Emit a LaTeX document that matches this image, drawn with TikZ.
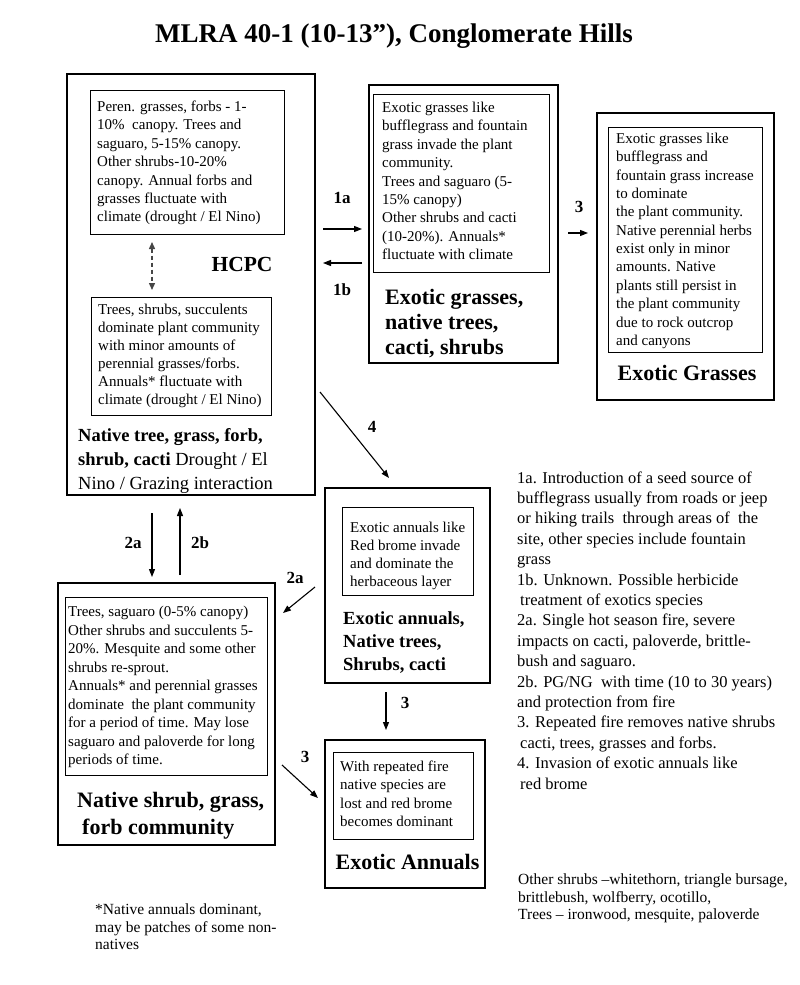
\documentclass[tikz,border=0pt]{standalone}
\usepackage{fontspec}
\setmainfont{Liberation Serif}
\usetikzlibrary{arrows.meta,calc}
\newcommand\mylines[1]{\begin{tabular}[t]{@{}l@{}}#1\end{tabular}}
\tikzset{
  outerbox/.style={draw, line width=2.8pt, inner sep=0pt, outer sep=0pt},
  innerbox/.style={draw, line width=1pt, inner sep=0pt, outer sep=0pt},
  body/.style={anchor=base west, inner sep=0pt, font=\fontsize{15}{18.4}\selectfont},
  boldlbl/.style={inner sep=0pt, font=\bfseries\fontsize{22}{25}\selectfont},
  lbl/.style={inner sep=0pt, font=\bfseries\fontsize{17}{20}\selectfont},
  arr/.style={line width=1.1pt, -{Triangle[length=8pt,width=6pt]}},
  dasharr/.style={line width=1.4pt, dash pattern=on 4pt off 3pt, gray!55!black,
    {Triangle[length=7pt,width=6pt]}-{Triangle[length=7pt,width=6pt]}},
}
\begin{document}
\begin{tikzpicture}[x=1pt,y=-1pt]
\useasboundingbox[fill=white] (0,0) rectangle (800,985);
\node[inner sep=0pt, font=\bfseries\fontsize{27}{30}\selectfont] (title) at (394,36) {MLRA 40-1 (10-13”), Conglomerate Hills};

% outer boxes
\node[outerbox, minimum width=248pt, minimum height=421pt] (A) at (191,284.5) {};
\node[outerbox, minimum width=189pt, minimum height=278pt] (B) at (463.5,224) {};
\node[outerbox, minimum width=177pt, minimum height=287pt] (C) at (685.5,256.5) {};
\node[outerbox, minimum width=165pt, minimum height=195pt] (D) at (407.5,585.5) {};
\node[outerbox, minimum width=217pt, minimum height=262pt] (E) at (166.5,714) {};
\node[outerbox, minimum width=160pt, minimum height=148pt] (F) at (405,814) {};

% inner boxes
\node[innerbox, minimum width=194pt, minimum height=144pt] (A1) at (187,162) {};
\node[innerbox, minimum width=180pt, minimum height=118pt] (A2) at (181,356) {};
\node[innerbox, minimum width=176pt, minimum height=178pt] (B1) at (461,183) {};
\node[innerbox, minimum width=154pt, minimum height=225pt] (C1) at (685,239.5) {};
\node[innerbox, minimum width=131pt, minimum height=88pt] (D1) at (407.5,551) {};
\node[innerbox, minimum width=202pt, minimum height=178pt] (E1) at (166,686) {};
\node[innerbox, minimum width=140pt, minimum height=87pt] (F1) at (403,795.5) {};

% texts
\node[body] (A1t) at (97,111.5) {\mylines{Peren. grasses, forbs - 1-\\10\%\ \ canopy. Trees and\\saguaro, 5-15\% canopy.\\Other shrubs-10-20\%\\canopy. Annual forbs and\\grasses fluctuate with\\climate (drought / El Nino)}};
\node[body, font=\fontsize{15}{18}\selectfont] (A2t) at (98,314.5) {\mylines{Trees, shrubs, succulents\\dominate plant community\\with minor amounts of\\perennial grasses/forbs.\\Annuals* fluctuate with\\climate (drought / El Nino)}};
\node[body, font=\fontsize{18.5}{24}\selectfont] (At) at (78,441) {\mylines{\textbf{Native tree, grass, forb,}\\\textbf{shrub, cacti} Drought / El\\Nino / Grazing interaction}};
\node[inner sep=0pt, font=\bfseries\fontsize{21.5}{24}\selectfont] (hcpc) at (242,264) {HCPC};

\node[body] (B1t) at (382,112.5) {\mylines{Exotic grasses like\\bufflegrass and fountain\\grass invade the plant\\community.\\Trees and saguaro (5-\\15\% canopy)\\Other shrubs and cacti\\(10-20\%). Annuals*\\fluctuate with climate}};
\node[body, font=\bfseries\fontsize{22}{25}\selectfont] (Bt) at (385,304) {\mylines{Exotic grasses,\\native trees,\\cacti, shrubs}};

\node[body, font=\fontsize{15}{18.35}\selectfont] (C1t) at (616,143.5) {\mylines{Exotic grasses like\\bufflegrass and\\fountain grass increase\\to dominate\\the plant community.\\Native perennial herbs\\exist only in minor\\amounts. Native\\plants still persist in\\the plant community\\due to rock outcrop\\and canyons}};
\node[boldlbl] (Ct) at (687,373) {Exotic Grasses};

\node[body, font=\fontsize{15}{18}\selectfont] (D1t) at (350,532.5) {\mylines{Exotic annuals like\\Red brome invade\\and dominate the\\herbaceous layer}};
\node[body, font=\bfseries\fontsize{18.5}{23}\selectfont] (Dt) at (343,624) {\mylines{Exotic annuals,\\Native trees,\\Shrubs, cacti}};

\node[body, font=\fontsize{15}{18.5}\selectfont] (E1t) at (68,616.5) {\mylines{Trees, saguaro (0-5\% canopy)\\Other shrubs and succulents 5-\\20\%. Mesquite and some other\\shrubs re-sprout.\\Annuals* and perennial grasses\\dominate\ \ the plant community\\for a period of time. May lose\\saguaro and paloverde for long\\periods of time.}};
\node[body, font=\bfseries\fontsize{22}{27}\selectfont] (Et) at (77,807) {\mylines{Native shrub, grass,\\\hspace*{5pt}forb community}};

\node[body, font=\fontsize{15}{18.3}\selectfont] (F1t) at (340,771.5) {\mylines{With repeated fire\\native species are\\lost and red brome\\becomes dominant}};
\node[boldlbl] (Ft) at (407.5,862) {Exotic Annuals};

\node[body, font=\fontsize{16.5}{20.4}\selectfont] (notes) at (517,483) {\mylines{1a. Introduction of a seed source of\\bufflegrass usually from roads or jeep\\or hiking trails\ \ through areas of\ \ the\\site, other species include fountain\\grass\\1b. Unknown. Possible herbicide\\\hspace*{3pt}treatment of exotics species\\2a. Single hot season fire, severe\\impacts on cacti, paloverde, brittle-\\bush and saguaro.\\2b. PG/NG\ \ with time (10 to 30 years)\\and protection from fire\\3. Repeated fire removes native shrubs\\\hspace*{3pt}cacti, trees, grasses and forbs.\\4. Invasion of exotic annuals like\\\hspace*{3pt}red brome}};
\node[body, font=\fontsize{15.5}{17.5}\selectfont] (shrubs) at (518,884.5) {\mylines{Other shrubs –whitethorn, triangle bursage,\\brittlebush, wolfberry, ocotillo,\\Trees – ironwood, mesquite, paloverde}};
\node[body, font=\fontsize{15.5}{17.5}\selectfont] (foot) at (95,914.5) {\mylines{*Native annuals dominant,\\may be patches of some non-\\natives}};

% connectors
\draw[dasharr, shorten <=8pt, shorten >=7pt] (A1.south -| 152,0) -- (A2.north -| 152,0);
\draw[arr, shorten <=8pt, shorten >=7pt] (A.east |- 0,229) -- (B.west |- 0,229);
\draw[arr, shorten <=7pt, shorten >=8pt] (B.west |- 0,263) -- (A.east |- 0,263);
\draw[arr, shorten <=10pt, shorten >=9pt] (B.east |- 0,233) -- (C.west |- 0,233);
\draw[arr] ([xshift=5pt]A.east |- 0,392) -- ([yshift=10pt]D.north -| 389,0);
\draw[arr, shorten <=18pt, shorten >=6pt] (A.south -| 152,0) -- (E.north -| 152,0);
\draw[arr, shorten <=8pt, shorten >=13pt] (E.north -| 180,0) -- (A.south -| 180,0);
\draw[arr] ([xshift=-10pt]D.west |- 0,587) -- ([xshift=8pt]E.east |- 0,613);
\draw[arr] ([xshift=7pt]E.east |- 0,765) -- ([xshift=-7pt]F.west |- 0,798);
\draw[arr, shorten <=9pt, shorten >=10pt] (D.south -| 386,0) -- (F.north -| 386,0);

% connector labels
\node[lbl] (l1a) at (342,198) {1a};
\node[lbl] (l1b) at (342,290) {1b};
\node[lbl] (l3a) at (579,207) {3};
\node[lbl] (l4) at (372,427) {4};
\node[lbl] (l2a) at (133,543) {2a};
\node[lbl] (l2b) at (200,543) {2b};
\node[lbl] (l2c) at (295,578) {2a};
\node[lbl] (l3b) at (305,757) {3};
\node[lbl] (l3c) at (405,703) {3};
\end{tikzpicture}
\end{document}
